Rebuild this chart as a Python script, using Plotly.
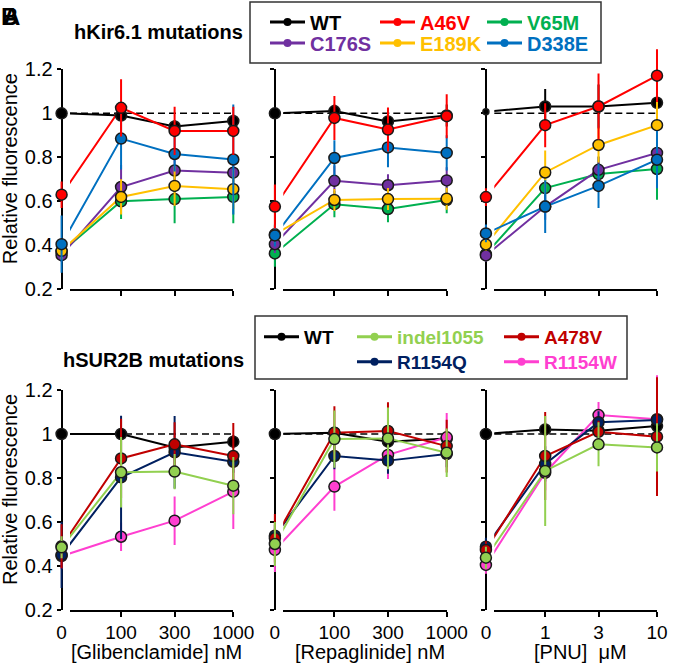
import plotly.graph_objects as go

W, H = 690, 668
FONT = "Liberation Sans, Arial, sans-serif"

# ---------------- data ----------------
DOSES_NM = [0, 100, 300, 1000]
DOSES_UM = [0, 1, 3, 10]
TICKS_NM = ["0", "100", "300", "1000"]
TICKS_UM = ["0", "1", "3", "10"]
Y_TICKS = [0.2, 0.4, 0.6, 0.8, 1.0, 1.2]
Y_TICKTEXT = ["0.2", "0.4", "0.6", "0.8", "1", "1.2"]

X_TITLES = ["[Glibenclamide] nM", "[Repaglinide] nM", "[PNU]\u00a0\u00a0\u03bcM"]
ROW_TITLES = ["hKir6.1 mutations", "hSUR2B mutations"]

KIR_NAMES = ["WT", "A46V", "V65M", "C176S", "E189K", "D338E"]
KIR_ORDER = ["WT", "V65M", "C176S", "E189K", "D338E", "A46V"]
KIR_COLORS = {"WT": "#000000", "A46V": "#ff0000", "V65M": "#00b050",
              "C176S": "#7030a0", "E189K": "#ffc000", "D338E": "#0070c0"}

KIR_GLIB = {"WT": [1.00, 0.99, 0.94, 0.965], "A46V": [0.63, 1.025, 0.92, 0.92],
            "V65M": [0.37, 0.60, 0.61, 0.62], "C176S": [0.355, 0.665, 0.74, 0.73],
            "E189K": [0.375, 0.62, 0.67, 0.655], "D338E": [0.405, 0.885, 0.815, 0.79]}
KIR_GLIB_ERR = {"WT": [0.0, 0.02, 0.03, 0.03], "A46V": [0.06, 0.13, 0.11, 0.11],
                "V65M": [0.04, 0.08, 0.11, 0.12], "C176S": [0.03, 0.10, 0.08, 0.08],
                "E189K": [0.04, 0.08, 0.09, 0.09], "D338E": [0.13, 0.14, 0.08, 0.25]}

KIR_REPA = {"WT": [1.00, 1.01, 0.963, 0.99], "A46V": [0.576, 0.979, 0.926, 0.987],
            "V65M": [0.363, 0.587, 0.565, 0.606], "C176S": [0.405, 0.693, 0.673, 0.695],
            "E189K": [0.45, 0.606, 0.61, 0.612], "D338E": [0.445, 0.797, 0.845, 0.82]}
KIR_REPA_ERR = {"WT": [0.0, 0.03, 0.03, 0.05], "A46V": [0.10, 0.10, 0.10, 0.10],
                "V65M": [0.06, 0.06, 0.06, 0.06], "C176S": [0.04, 0.07, 0.05, 0.06],
                "E189K": [0.04, 0.05, 0.05, 0.05], "D338E": [0.05, 0.08, 0.09, 0.08]}

KIR_PNU = {"WT": [1.007, 1.031, 1.031, 1.048], "A46V": [0.619, 0.946, 1.031, 1.171],
           "V65M": [0.36, 0.66, 0.724, 0.747], "C176S": [0.354, 0.576, 0.743, 0.82],
           "E189K": [0.404, 0.731, 0.856, 0.946], "D338E": [0.454, 0.576, 0.67, 0.789]}
KIR_PNU_ERR = {"WT": [0.0, 0.08, 0.10, 0.05], "A46V": [0.04, 0.10, 0.15, 0.12],
               "V65M": [0.03, 0.06, 0.08, 0.14], "C176S": [0.03, 0.06, 0.06, 0.07],
               "E189K": [0.03, 0.10, 0.08, 0.12], "D338E": [0.04, 0.12, 0.10, 0.13]}

SUR_NAMES = ["WT", "indel1055", "A478V", "R1154Q", "R1154W"]
SUR_ORDER = ["WT", "R1154W", "R1154Q", "A478V", "indel1055"]
SUR_COLORS = {"WT": "#000000", "indel1055": "#92d050", "A478V": "#c00000",
              "R1154Q": "#002060", "R1154W": "#ff3fd0"}

SUR_GLIB = {"WT": [1.0, 1.0, 0.939, 0.965], "indel1055": [0.485, 0.826, 0.829, 0.765],
            "A478V": [0.49, 0.889, 0.953, 0.90], "R1154Q": [0.45, 0.803, 0.917, 0.874],
            "R1154W": [0.445, 0.533, 0.606, 0.738]}
SUR_GLIB_ERR = {"WT": [0.0, 0.02, 0.03, 0.03], "indel1055": [0.05, 0.16, 0.08, 0.13],
                "A478V": [0.10, 0.18, 0.10, 0.15], "R1154Q": [0.15, 0.28, 0.165, 0.05],
                "R1154W": [0.06, 0.065, 0.11, 0.17]}

SUR_REPA = {"WT": [1.0, 1.006, 0.965, 0.98], "indel1055": [0.50, 0.977, 0.98, 0.915],
            "A478V": [0.526, 1.006, 1.014, 0.945], "R1154Q": [0.538, 0.90, 0.879, 0.909],
            "R1154W": [0.473, 0.761, 0.905, 0.985]}
SUR_REPA_ERR = {"WT": [0.0, 0.02, 0.03, 0.03], "indel1055": [0.10, 0.13, 0.14, 0.11],
                "A478V": [0.11, 0.12, 0.13, 0.12], "R1154Q": [0.05, 0.06, 0.06, 0.06],
                "R1154W": [0.10, 0.11, 0.11, 0.11]}

SUR_PNU = {"WT": [1.0, 1.021, 1.015, 1.036], "indel1055": [0.438, 0.832, 0.953, 0.939],
           "A478V": [0.473, 0.90, 1.01, 0.988], "R1154Q": [0.488, 0.864, 1.053, 1.064],
           "R1154W": [0.405, 0.824, 1.086, 1.067]}
SUR_PNU_ERR = {"WT": [0.0, 0.03, 0.03, 0.03], "indel1055": [0.05, 0.25, 0.10, 0.11],
               "A478V": [0.04, 0.20, 0.05, 0.27], "R1154Q": [0.04, 0.08, 0.05, 0.05],
               "R1154W": [0.04, 0.08, 0.06, 0.20]}

# ---------------- layout geometry (pixels) ----------------
X_START = [70.0, 283.3, 494.3]
X_END = [233.3, 446.7, 657.0]
ROW_PX = [(69.3, 289.3), (390.0, 610.0)]
ROW_PAD = [40.0, 25.0]
LEFT_DEC = 0.455
ZERO_DEC = 0.53
A_LEFT, A_RIGHT = 24.0, 12.0


def xp(px):
    return px / W


def yp(py):
    return 1 - py / H


rows = [
    (KIR_NAMES, KIR_ORDER, KIR_COLORS, [(KIR_GLIB, KIR_GLIB_ERR), (KIR_REPA, KIR_REPA_ERR), (KIR_PNU, KIR_PNU_ERR)]),
    (SUR_NAMES, SUR_ORDER, SUR_COLORS, [(SUR_GLIB, SUR_GLIB_ERR), (SUR_REPA, SUR_REPA_ERR), (SUR_PNU, SUR_PNU_ERR)]),
]
col_doses = [(DOSES_NM, TICKS_NM, 2), (DOSES_NM, TICKS_NM, 2), (DOSES_UM, TICKS_UM, 0)]

fig = go.Figure()
layout = {}
shapes = []
annotations = []

for r in range(2):
    names, order, colors, panels = rows[r]
    top_px, bot_px = ROW_PX[r]
    ppu = (bot_px - top_px) / 1.0
    for c in range(3):
        idx = r * 3 + c
        nB, nA = idx + 1, idx + 7
        doses, ticks, L1 = col_doses[c]
        L3 = L1 + 1
        rB0 = L1 - LEFT_DEC
        pxdec = (X_END[c] - X_START[c]) / (L3 - rB0)
        zero_val = 10 ** (L1 - ZERO_DEC)
        zero_px = X_START[c] - (ZERO_DEC - LEFT_DEC) * pxdec
        xpos = [d if d > 0 else zero_val for d in doses]
        sB = "" if nB == 1 else str(nB)
        sA = str(nA)

        layout["xaxis" + sB] = dict(
            domain=[xp(X_START[c]), xp(X_END[c])], type="log", range=[rB0, L3],
            anchor="y" + sB, showline=True, linecolor="black", linewidth=2,
            ticks="outside", ticklen=5, tickwidth=1.5, tickcolor="black",
            tickvals=doses[1:], showticklabels=False, showgrid=False, zeroline=False)
        layout["yaxis" + sB] = dict(
            domain=[yp(bot_px), yp(top_px)], range=[0.2, 1.2], anchor="free",
            position=xp(zero_px), showline=True, linecolor="black", linewidth=2,
            ticks="outside", ticklen=4, tickwidth=1.5, tickcolor="black",
            tickvals=Y_TICKS, ticktext=Y_TICKTEXT, showticklabels=(c == 0),
            tickfont=dict(family=FONT, size=20, color="black"),
            showgrid=False, zeroline=False)
        layout["xaxis" + sA] = dict(
            domain=[xp(X_START[c] - A_LEFT), xp(X_END[c] + A_RIGHT)], type="log",
            range=[rB0 - A_LEFT / pxdec, L3 + A_RIGHT / pxdec], anchor="y" + sA,
            showline=False, showgrid=False, zeroline=False,
            ticks="outside", ticklen=5, tickcolor="rgba(0,0,0,0)",
            tickvals=xpos, ticktext=ticks, showticklabels=(r == 1),
            tickfont=dict(family=FONT, size=19, color="black"))
        layout["yaxis" + sA] = dict(
            domain=[yp(bot_px), yp(top_px - ROW_PAD[r])],
            range=[0.2, 1.2 + ROW_PAD[r] / ppu], visible=False)

        vals, errs = panels[c]
        for name in order:
            fig.add_trace(go.Scatter(
                x=xpos, y=vals[name], mode="lines", xaxis="x" + sB, yaxis="y" + sB,
                line=dict(color=colors[name], width=2), showlegend=False, hoverinfo="skip"))
        for name in order:
            size = [11, 11, 11, 11]
            if r == 0 and c == 2 and name == "WT":
                size = [6, 11, 11, 11]
            fig.add_trace(go.Scatter(
                x=xpos, y=vals[name], mode="markers", xaxis="x" + sA, yaxis="y" + sA,
                marker=dict(size=size, color=colors[name], opacity=1,
                            line=dict(color="#1a1a1a", width=1.5)),
                error_y=dict(type="data", array=errs[name], visible=True,
                             color=colors[name], thickness=2, width=0),
                cliponaxis=False, showlegend=False, name=name))

        shapes.append(dict(type="line", xref="x" + sB + " domain", yref="y" + sB,
                           x0=0, x1=1, y0=1, y1=1, layer="below",
                           line=dict(color="black", width=1.5, dash="7px,4px")))
        if r == 1:
            annotations.append(dict(
                text=X_TITLES[c], xref="paper", yref="paper",
                x=xp((X_START[c] + X_END[c]) / 2 + 5), y=yp(652), showarrow=False,
                xanchor="center", yanchor="middle",
                font=dict(family=FONT, size=20, color="black")))
    annotations.append(dict(
        text="Relative fluorescence", textangle=-90, xref="paper", yref="paper",
        x=xp(10), y=yp((top_px + bot_px) / 2 - 10), showarrow=False,
        xanchor="center", yanchor="middle", font=dict(family=FONT, size=20, color="black")))

annotations.append(dict(text="<b>" + ROW_TITLES[0] + "</b>", xref="paper", yref="paper",
                        x=xp(158.5), y=yp(32), showarrow=False, xanchor="center", yanchor="middle",
                        font=dict(family=FONT, size=20, color="black")))
annotations.append(dict(text="<b>" + ROW_TITLES[1] + "</b>", xref="paper", yref="paper",
                        x=xp(153), y=yp(360), showarrow=False, xanchor="center", yanchor="middle",
                        font=dict(family=FONT, size=20, color="black")))
for letter, dx in [("A", 11), ("B", 9)]:
    annotations.append(dict(text="<b>" + letter + "</b>", xref="paper", yref="paper",
                            x=xp(dx), y=yp(1), showarrow=False, xanchor="center", yanchor="top",
                            font=dict(family=FONT, size=24, color="black")))

# legend boxes
shapes.append(dict(type="rect", xref="paper", yref="paper", x0=xp(250), x1=xp(601),
                   y0=yp(63), y1=yp(2), line=dict(color="#333333", width=1.5)))
shapes.append(dict(type="rect", xref="paper", yref="paper", x0=xp(255), x1=xp(627),
                   y0=yp(379), y1=yp(316), line=dict(color="#333333", width=1.5)))

# legend entries: (name, colour, symbol-start px, row px, font size)
LEG_ITEMS = [
    ("WT", KIR_COLORS["WT"], 268, 22, 20), ("A46V", KIR_COLORS["A46V"], 378, 22, 20),
    ("V65M", KIR_COLORS["V65M"], 485, 22, 20), ("C176S", KIR_COLORS["C176S"], 268, 43, 20),
    ("E189K", KIR_COLORS["E189K"], 378, 43, 20), ("D338E", KIR_COLORS["D338E"], 485, 43, 20),
    ("WT", SUR_COLORS["WT"], 262, 337, 19), ("indel1055", SUR_COLORS["indel1055"], 355, 337, 19),
    ("A478V", SUR_COLORS["A478V"], 502, 337, 19), ("R1154Q", SUR_COLORS["R1154Q"], 355, 362, 19),
    ("R1154W", SUR_COLORS["R1154W"], 502, 362, 19),
]
for k, (name, col, sx, sy, fs) in enumerate(LEG_ITEMS):
    lid = "legend" if k == 0 else "legend%d" % (k + 1)
    fig.add_trace(go.Scatter(
        x=[None], y=[None], mode="lines+markers", name="<b>" + name + "</b>",
        line=dict(color=col, width=3), marker=dict(size=8, color=col),
        legend=lid, showlegend=True, xaxis="x", yaxis="y"))
    layout[lid] = dict(x=xp(sx - 3), y=yp(sy), xanchor="left", yanchor="middle",
                       bgcolor="rgba(0,0,0,0)", borderwidth=0, itemwidth=35,
                       font=dict(family=FONT, size=fs, color=col), itemclick=False)

fig.update_layout(
    width=W, height=H, margin=dict(l=0, r=0, t=0, b=0, autoexpand=False),
    paper_bgcolor="white", plot_bgcolor="rgba(0,0,0,0)",
    shapes=shapes, annotations=annotations, **layout)

fig.write_html("out.html", config={"displayModeBar": False},
               post_script="document.body.style.margin='0px';")
